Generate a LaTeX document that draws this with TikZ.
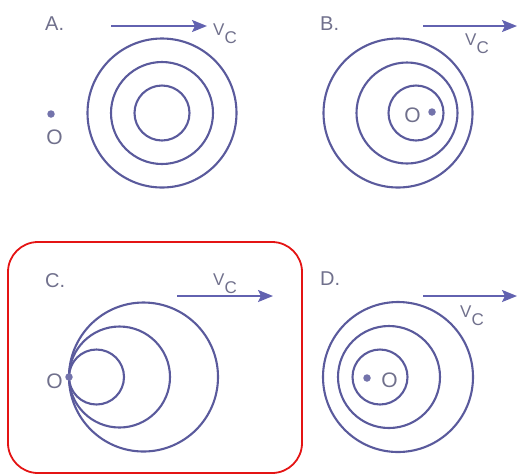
\documentclass[tikz,border=0pt]{standalone}
\usepackage{fontspec}
\setmainfont{Liberation Sans}
\usetikzlibrary{arrows.meta}
\definecolor{cWAVE}{HTML}{5A5A9C}
\definecolor{cARROW}{HTML}{6262B0}
\definecolor{cLABEL}{HTML}{70708C}
\definecolor{cPICK}{HTML}{E41414}
\tikzset{
  wave/.style={
    draw=cWAVE, line width=2.1pt
  },
  source/.style={
    circle, fill=cWAVE!85, inner sep=0pt, minimum size=7.5pt
  },
  velocity/.style={
    -{Stealth[length=15pt,width=12pt,inset=3pt]},
    line width=2.1pt,
    draw=cARROW
  },
  panellabel/.style={
    anchor=base west, inner sep=0pt,
    text=cLABEL, font=\fontsize{20}{20}\selectfont
  },
  sourcelabel/.style={
    inner sep=0pt, text=cLABEL,
    font=\fontsize{21}{21}\selectfont
  },
  vlabel/.style={
    anchor=base west, inner sep=0pt,
    text=cLABEL, font=\fontsize{17}{17}\selectfont
  }
}
\newcommand{\velo}{V\raisebox{-8pt}{C}}

\begin{document}
\begin{tikzpicture}[x=1pt, y=-1pt]
  \useasboundingbox (0,0) rectangle (518,475);

  % A. source outside, left
  \node[panellabel] (labA) at (45,30) {A.};
  \coordinate (cA) at (162,113);
  \foreach \r in {27.5, 51, 74.5}
    \draw[wave] (cA) circle[radius=\r pt];
  \node[source] (sA) at (51,114) {};
  \node[sourcelabel] (oA) at (54.5,137) {O};
  \coordinate (vA0) at (111,26);
  \coordinate (vA1) at (207,26);
  \draw[velocity] (vA0) -- (vA1);
  \node[vlabel] (velA) at (213,35) {\velo};

  % B. fronts shifted forward
  \node[panellabel] (labB) at (320,30) {B.};
  \draw[wave] (398,113) circle[radius=74.5pt];
  \draw[wave] (407,113) circle[radius=50.5pt];
  \draw[wave] (416,113) circle[radius=27.5pt];
  \node[source] (sB) at (432,112) {};
  \node[sourcelabel] (oB) at (412.5,115) {O};
  \coordinate (vB0) at (423,26);
  \coordinate (vB1) at (517,26);
  \draw[velocity] (vB0) -- (vB1);
  \node[vlabel] (velB) at (465,45) {\velo};

  % C. all fronts through O
  \draw[cPICK, line width=1.8pt, rounded corners=30pt] (8,242) rectangle (302,473);
  \node[panellabel] (labC) at (45,287) {C.};
  \coordinate (pC) at (69,377);
  \foreach \r in {27.5, 50.5, 74.5}
    \draw[wave] (pC) ++(\r,0) circle[radius=\r pt];
  \node[source] (sC) at (pC) {};
  \node[sourcelabel] (oC) at (54.5,381) {O};
  \coordinate (vC0) at (177,296);
  \coordinate (vC1) at (273,296);
  \draw[velocity] (vC0) -- (vC1);
  \node[vlabel] (velC) at (213,285) {\velo};

  % D. fronts shifted back
  \node[panellabel] (labD) at (320,285) {D.};
  \draw[wave] (398,377) circle[radius=75pt];
  \draw[wave] (389,377) circle[radius=51pt];
  \draw[wave] (380,377) circle[radius=27.5pt];
  \node[source] (sD) at (367,378) {};
  \node[sourcelabel] (oD) at (389.5,380) {O};
  \coordinate (vD0) at (423,296);
  \coordinate (vD1) at (517,296);
  \draw[velocity] (vD0) -- (vD1);
  \node[vlabel] (velD) at (460,317) {\velo};
\end{tikzpicture}
\end{document}
